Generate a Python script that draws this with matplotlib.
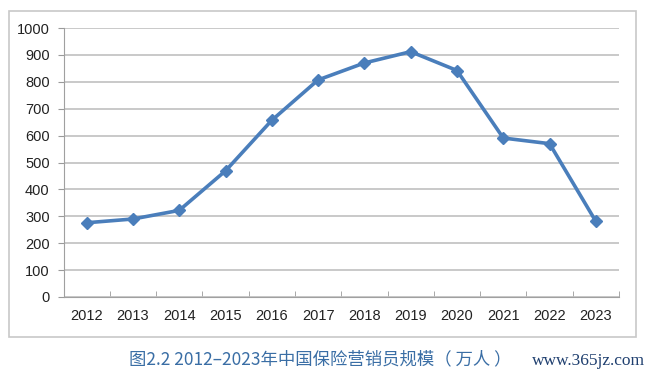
import matplotlib

matplotlib.use("Agg")
import matplotlib.pyplot as plt
from matplotlib.patches import Rectangle

plt.rcParams["font.family"] = ["Liberation Sans", "Noto Sans CJK SC", "DejaVu Sans"]

years = ["2012", "2013", "2014", "2015", "2016", "2017", "2018", "2019", "2020", "2021", "2022", "2023"]
agents = [276, 290, 322, 469, 657, 807, 870, 912, 842, 591, 570, 281]
y_ticks = [0, 100, 200, 300, 400, 500, 600, 700, 800, 900, 1000]

caption = "图2.2 2012–2023年中国保险营销员规模（ 万人 ）"
watermark = "www.365jz.com"

W, H = 650, 378
fig = plt.figure(figsize=(W / 100, H / 100), dpi=100)
fig.patch.set_facecolor("white")

# outer chart frame
fig.patches.append(Rectangle((9 / W, 1 - 337 / H), 627 / W, 326 / H, transform=fig.transFigure,
                             fill=False, edgecolor="#c8c8c8", linewidth=1.2))

ax = fig.add_axes([63.5 / W, 1 - 297 / H, 555.5 / W, 269 / H])
x = list(range(len(years)))
ax.plot(x, agents, color="#4a7ebb", linewidth=2.6, marker="D", markersize=6.5,
        markerfacecolor="#4a7ebb", markeredgecolor="#4a7ebb", zorder=3)

ax.set_xlim(-0.5, len(years) - 0.5)
ax.set_ylim(0, 1000)
ax.set_yticks(y_ticks)
ax.set_yticklabels([str(v) for v in y_ticks], fontsize=10.5, color="#222222")
ax.set_xticks(x)
ax.set_xticklabels(years, fontsize=10.5, color="#222222")
ax.set_xticks([i - 0.5 for i in range(len(years) + 1)], minor=True)
ax.tick_params(axis="x", which="major", length=0, pad=9)
ax.tick_params(axis="x", which="minor", length=4, color="#9a9a9a", direction="in")
ax.tick_params(axis="y", length=4, color="#9a9a9a", pad=6)
ax.yaxis.grid(True, color="#c0c0c0", linewidth=1.2)
ax.set_axisbelow(True)
for side in ["top", "right"]:
    ax.spines[side].set_visible(False)
ax.spines["left"].set_color("#a0a0a0")
ax.spines["bottom"].set_color("#a0a0a0")

fig.text(320 / W, 1 - 359 / H, caption, ha="center", va="center", fontsize=12.5,
         color="#3a6ea5", family=["Noto Sans CJK SC", "DejaVu Sans"], fontweight="medium")
fig.text(645 / W, 1 - 361 / H, watermark, ha="right", va="center", fontsize=12.5,
         color="#1f3f6f", family="Liberation Serif")

fig.savefig("out.png", dpi=100)
